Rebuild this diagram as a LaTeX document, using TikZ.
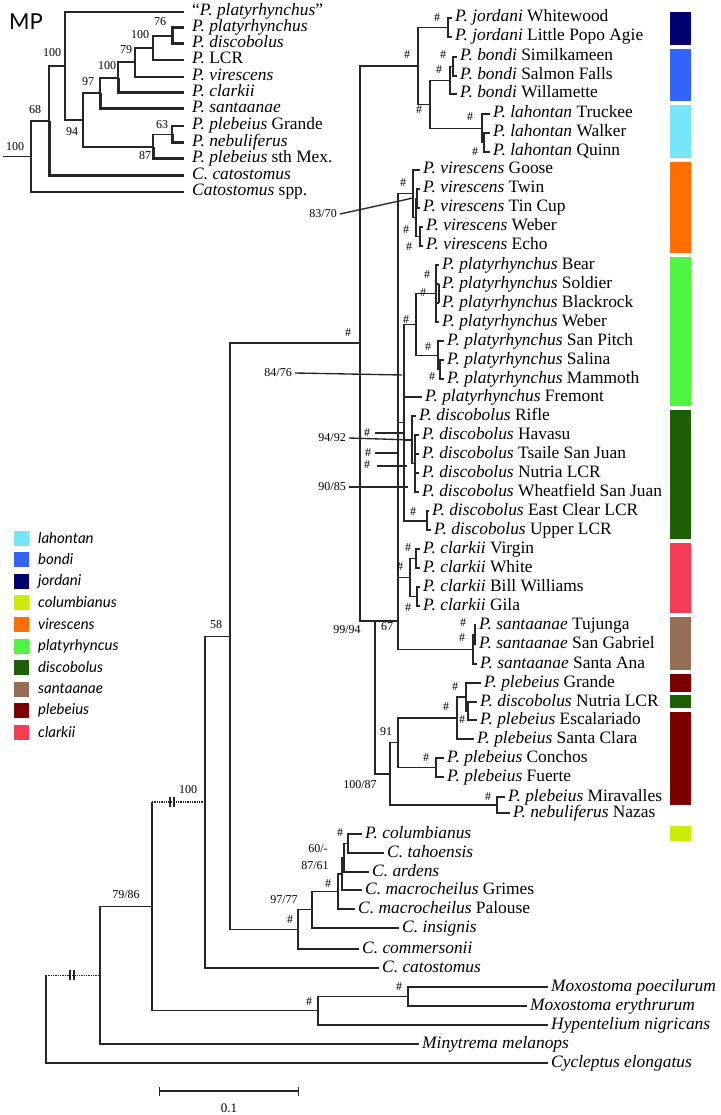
\documentclass[tikz,border=0pt]{standalone}
\usepackage{fontspec}
\setmainfont{Liberation Serif}
\newfontfamily\legfont{Lato}
\usetikzlibrary{arrows.meta}
\newcommand{\spn}[1]{\textit{#1}}
\definecolor{cjor}{RGB}{0,0,110}
\definecolor{cbon}{RGB}{50,100,250}
\definecolor{clah}{RGB}{120,228,248}
\definecolor{ccol}{RGB}{205,235,10}
\definecolor{cvir}{RGB}{255,110,0}
\definecolor{cpla}{RGB}{80,245,65}
\definecolor{cdis}{RGB}{30,95,5}
\definecolor{csan}{RGB}{150,110,85}
\definecolor{cple}{RGB}{125,0,0}
\definecolor{ccla}{RGB}{245,60,85}

\begin{document}
\begin{tikzpicture}[x=1pt,y=-1pt,
  br/.style={draw=black!85,line width=1.35pt},
  thk/.style={br,line width=3pt},
  dot/.style={br,densely dotted},
  tip/.style={anchor=west,inner xsep=3pt,inner ysep=0pt,text height=11pt,text depth=3pt,font=\fontsize{17.4}{19}\selectfont},
  mtip/.style={tip,inner xsep=8pt},
  bs/.style={font=\fontsize{12}{12}\selectfont,inner sep=0pt},
  leg/.style={anchor=west,inner sep=0pt,font=\legfont\itshape\fontsize{15}{15}\selectfont}]
  \useasboundingbox (0,0) rectangle (720,1115);

  % ---- MP inset ----
  \node[anchor=west,inner sep=0pt,font=\legfont\fontsize{22}{22}\selectfont] (mp) at (9,22) {MP};
  \coordinate (m0) at (3,156.5);   \coordinate (mR) at (31,156.5);
  \coordinate (mS) at (49,121);    \coordinate (mT) at (65,66);
  \coordinate (mU) at (83,120);    \coordinate (mX) at (100,93);
  \coordinate (mY) at (118,78);    \coordinate (mZ) at (135,62);
  \coordinate (mN) at (153,48);    \coordinate (mQ) at (172,36);
  \coordinate (mW) at (153,147);   \coordinate (mV) at (172,134.5);
  \node[mtip] (m1) at (184,12) {“\spn{P. platyrhynchus}”};
  \node[mtip] (m2) at (184,28) {\spn{P. platyrhynchus}};
  \node[mtip] (m3) at (184,44) {\spn{P. discobolus}};
  \node[mtip] (m4) at (184,60) {\spn{P.} LCR};
  \node[mtip] (m5) at (184,77) {\spn{P. virescens}};
  \node[mtip] (m6) at (184,93) {\spn{P. clarkii}};
  \node[mtip] (m7) at (184,109) {\spn{P. santaanae}};
  \node[mtip] (m8) at (184,126) {\spn{P. plebeius} Grande};
  \node[mtip] (m9) at (184,143) {\spn{P. nebuliferus}};
  \node[mtip] (m10) at (184,159) {\spn{P. plebeius} sth Mex.};
  \node[mtip] (m11) at (184,176) {\spn{C. catostomus}};
  \node[mtip] (m12) at (184,192) {\spn{Catostomus} spp.};
  \draw[br] (m0) -- (mR);
  \draw[br] (mR) |- (mS); \draw[br] (mR) |- (m12.west);
  \draw[br] (mS) |- (mT); \draw[thk] (mS) |- (m11.west);
  \draw[br] (mT) |- (m1.west); \draw[br] (mT) |- (mU);
  \draw[br] (mU) |- (mX); \draw[br] (mU) |- (mW);
  \draw[br] (mX) |- (mY); \draw[thk] (mX) |- (m7.west);
  \draw[br] (mY) |- (mZ); \draw[thk] (mY) |- (m6.west);
  \draw[br] (mZ) |- (mN); \draw[br] (mZ) |- (m5.west);
  \draw[br] (mN) |- (mQ); \draw[br] (mN) |- (m4.west);
  \draw[thk] (mQ) |- (m2.west); \draw[thk] (mQ) |- (m3.west);
  \draw[br] (mW) |- (mV); \draw[thk] (mW) |- (m10.west);
  \draw[br] (mV) |- (m8.west); \draw[thk] (mV) |- (m9.west);
  \foreach \t/\x/\y in {100/15/147,68/35/110,100/52/53,94/72/132,97/88/82,100/107/66,79/126/50,100/140/35,76/160/22,63/162/125,87/145/156}
    \node[bs] at (\x,\y) {\t};

  % ---- main tree: internal nodes ----
  \coordinate (rt) at (46,1019);   \coordinate (n100) at (100,975.2);
  \coordinate (n152) at (152,906.4); \coordinate (n205) at (205,802.1);
  \coordinate (E) at (230,636.2);  \coordinate (F) at (360,343);
  \coordinate (G) at (418,65.9);   \coordinate (J) at (448,27.5);
  \coordinate (H) at (430,104.25); \coordinate (B0) at (450,80.25);
  \coordinate (B1) at (453,66.5);  \coordinate (L0) at (482,128.25);
  \coordinate (L1) at (484,142.5);
  \coordinate (S375) at (375,621); \coordinate (N67) at (398,621);
  \coordinate (Va) at (413,193.75); \coordinate (Vb) at (416,217.5);
  \coordinate (Vb1) at (417,198.5); \coordinate (Vc) at (420,236.5);
  \coordinate (PD) at (404,422.5); \coordinate (P0) at (416,324.4);
  \coordinate (P1) at (436,293.5); \coordinate (P2) at (438,355.25);
  \coordinate (P3) at (440,369.5); \coordinate (DI) at (412,440);
  \coordinate (D2) at (415,463.5); \coordinate (EC) at (427,521);
  \coordinate (CL) at (410,577.5); \coordinate (CV) at (416,558.5);
  \coordinate (CB) at (417,596.5); \coordinate (SA) at (473,649.25);
  \coordinate (SA1) at (475,634.5);
  \coordinate (PL) at (390,773.9); \coordinate (N91) at (398,742.75);
  \coordinate (Pa) at (457,718);   \coordinate (Pb) at (466,697);
  \coordinate (Pc) at (468,711);   \coordinate (CF) at (436,767.5);
  \coordinate (MN) at (497,805);
  \coordinate (D) at (298,929.4);  \coordinate (C) at (312,909.7);
  \coordinate (B) at (338,891.4);  \coordinate (A0) at (342,873.9);
  \coordinate (A1) at (344,857.75); \coordinate (CT) at (348,843.5);
  \coordinate (Mox) at (318,1010.75); \coordinate (Mx) at (408,996.5);

  % ---- leaves ----
  \node[tip] (jw) at (452,18) {\spn{P. jordani} Whitewood};
  \node[tip] (jl) at (452,37) {\spn{P. jordani} Little Popo Agie};
  \node[tip] (bsi) at (457,57) {\spn{P. bondi} Similkameen};
  \node[tip] (bsf) at (457,76) {\spn{P. bondi} Salmon Falls};
  \node[tip] (bwi) at (457,94) {\spn{P. bondi} Willamette};
  \node[tip] (ltr) at (490,114) {\spn{P. lahontan} Truckee};
  \node[tip] (lwa) at (490,133) {\spn{P. lahontan} Walker};
  \node[tip] (lqu) at (490,152) {\spn{P. lahontan} Quinn};
  \node[tip] (vgo) at (420,170) {\spn{P. virescens} Goose};
  \node[tip] (vtw) at (420,189) {\spn{P. virescens} Twin};
  \node[tip] (vtc) at (420,208) {\spn{P. virescens} Tin Cup};
  \node[tip] (vwe) at (423,227) {\spn{P. virescens} Weber};
  \node[tip] (vec) at (423,246) {\spn{P. virescens} Echo};
  \node[tip] (pbe) at (439,265) {\spn{P. platyrhynchus} Bear};
  \node[tip] (pso) at (439,284) {\spn{P. platyrhynchus} Soldier};
  \node[tip] (pbl) at (439,303) {\spn{P. platyrhynchus} Blackrock};
  \node[tip] (pwe) at (439,322) {\spn{P. platyrhynchus} Weber};
  \node[tip] (psp) at (444,341) {\spn{P. platyrhynchus} San Pitch};
  \node[tip] (psa) at (444,360) {\spn{P. platyrhynchus} Salina};
  \node[tip] (pma) at (444,379) {\spn{P. platyrhynchus} Mammoth};
  \node[tip] (pfr) at (422,397) {\spn{P. platyrhynchus} Fremont};
  \node[tip] (dri) at (416,416) {\spn{P. discobolus} Rifle};
  \node[tip] (dha) at (419,435) {\spn{P. discobolus} Havasu};
  \node[tip] (dts) at (419,454) {\spn{P. discobolus} Tsaile San Juan};
  \node[tip] (dnu) at (419,473) {\spn{P. discobolus} Nutria LCR};
  \node[tip] (dwh) at (419,492) {\spn{P. discobolus} Wheatfield San Juan};
  \node[tip] (dec) at (429,511) {\spn{P. discobolus} East Clear LCR};
  \node[tip] (dup) at (431,530) {\spn{P. discobolus} Upper LCR};
  \node[tip] (cvi) at (420,549) {\spn{P. clarkii} Virgin};
  \node[tip] (cwh) at (420,568) {\spn{P. clarkii} White};
  \node[tip] (cbw) at (420,587) {\spn{P. clarkii} Bill Williams};
  \node[tip] (cgi) at (420,606) {\spn{P. clarkii} Gila};
  \node[tip] (stu) at (476,625) {\spn{P. santaanae} Tujunga};
  \node[tip] (ssg) at (476,644) {\spn{P. santaanae} San Gabriel};
  \node[tip] (ssa) at (477,664) {\spn{P. santaanae} Santa Ana};
  \node[tip] (lgr) at (481,683) {\spn{P. plebeius} Grande};
  \node[tip] (lnu) at (477,702) {\spn{P. discobolus} Nutria LCR};
  \node[tip] (les) at (477,720) {\spn{P. plebeius} Escalariado};
  \node[tip] (lsc) at (474,739) {\spn{P. plebeius} Santa Clara};
  \node[tip] (lco) at (444,758) {\spn{P. plebeius} Conchos};
  \node[tip] (lfu) at (444,777) {\spn{P. plebeius} Fuerte};
  \node[tip] (lmi) at (505,797) {\spn{P. plebeius} Miravalles};
  \node[tip] (lna) at (510,813) {\spn{P. nebuliferus} Nazas};
  \node[tip] (kco) at (362,834) {\spn{P. columbianus}};
  \node[tip] (kta) at (384,853) {\spn{C. tahoensis}};
  \node[tip] (kar) at (369,872) {\spn{C. ardens}};
  \node[tip] (kgr) at (362,890) {\spn{C. macrocheilus} Grimes};
  \node[tip] (kpa) at (355,909) {\spn{C. macrocheilus} Palouse};
  \node[tip] (kin) at (399,928) {\spn{C. insignis}};
  \node[tip] (kcm) at (359,949) {\spn{C. commersonii}};
  \node[tip] (kca) at (379,968) {\spn{C. catostomus}};
  \node[tip] (xpo) at (548,987) {\spn{Moxostoma poecilurum}};
  \node[tip] (xer) at (527,1006) {\spn{Moxostoma erythrurum}};
  \node[tip] (xhy) at (548,1025) {\spn{Hypentelium nigricans}};
  \node[tip] (xmi) at (419,1044) {\spn{Minytrema melanops}};
  \node[tip] (xcy) at (548,1063) {\spn{Cycleptus elongatus}};

  % ---- branches ----
  \draw[br] (rt) -- (rt |- n100); \draw[dot] (rt |- n100) -- (n100);
  \draw[br] (rt) |- (xcy.west);
  \draw[br] (n100) |- (n152); \draw[br] (n100) |- (xmi.west);
  \draw[br] (n152) -- (n152 |- n205); \draw[dot] (n152 |- n205) -- (n205);
  \draw[br] (n152) |- (Mox);
  \draw[br] (n205) |- (E); \draw[br] (n205) |- (kca.west);
  \draw[br] (E) |- (F); \draw[br] (E) |- (D);
  \draw[br] (F) |- (G); \draw[br] (F) |- (S375);
  \draw[br] (G) |- (J); \draw[br] (G) |- (H);
  \foreach \c in {jw,jl} \draw[br] (J) |- (\c.west);
  \draw[br] (H) |- (B0); \draw[br] (H) |- (L0);
  \draw[br] (B0) |- (B1); \draw[br] (B0) |- (bwi.west);
  \foreach \c in {bsi,bsf} \draw[br] (B1) |- (\c.west);
  \draw[br] (L0) |- (ltr.west); \draw[br] (L0) |- (L1);
  \foreach \c in {lwa,lqu} \draw[br] (L1) |- (\c.west);
  \draw[br] (S375) -- (N67); \draw[br] (S375) |- (PL);
  \foreach \c in {Va,PD,CL,SA} \draw[br] (N67) |- (\c);
  \draw[br] (Va) |- (vgo.west); \draw[br] (Va) |- (Vb);
  \draw[br] (Vb) |- (Vb1); \draw[br] (Vb) |- (Vc);
  \foreach \c in {vtw,vtc} \draw[br] (Vb1) |- (\c.west);
  \foreach \c in {vwe,vec} \draw[br] (Vc) |- (\c.west);
  \foreach \c in {P0,DI,EC} \draw[br] (PD) |- (\c);
  \draw[br] (PD) |- (pfr.west);
  \draw[br] (P0) |- (P1); \draw[br] (P0) |- (P2);
  \foreach \c in {pbe,pso,pbl,pwe} \draw[br] (P1) |- (\c.west);
  \draw[thk,line width=2.2pt] (pso.west) -- (pbl.west);
  \draw[br] (P2) |- (psp.west); \draw[br] (P2) |- (P3);
  \foreach \c in {psa,pma} \draw[br] (P3) |- (\c.west);
  \draw[br] (DI) |- (dri.west); \draw[br] (DI) |- (D2);
  \foreach \c in {dha,dts,dnu,dwh} \draw[br] (D2) |- (\c.west);
  \foreach \c in {dec,dup} \draw[br] (EC) |- (\c.west);
  \draw[br] (CL) |- (CV); \draw[br] (CL) |- (CB);
  \foreach \c in {cvi,cwh} \draw[br] (CV) |- (\c.west);
  \foreach \c in {cbw,cgi} \draw[br] (CB) |- (\c.west);
  \draw[br] (SA) |- (SA1); \draw[br] (SA) |- (ssa.west);
  \foreach \c in {stu,ssg} \draw[br] (SA1) |- (\c.west);
  \draw[br] (PL) |- (N91); \draw[br] (PL) |- (MN);
  \draw[br] (N91) |- (Pa); \draw[br] (N91) |- (CF);
  \draw[br] (Pa) |- (Pb); \draw[br] (Pa) |- (lsc.west);
  \draw[br] (Pb) |- (lgr.west); \draw[br] (Pb) |- (Pc);
  \foreach \c in {lnu,les} \draw[br] (Pc) |- (\c.west);
  \foreach \c in {lco,lfu} \draw[br] (CF) |- (\c.west);
  \foreach \c in {lmi,lna} \draw[br] (MN) |- (\c.west);
  \draw[br] (D) |- (C); \draw[br] (D) |- (kcm.west);
  \draw[br] (C) |- (B); \draw[br] (C) |- (kin.west);
  \draw[br] (B) |- (A0); \draw[br] (B) |- (kpa.west);
  \draw[br] (A0) |- (A1); \draw[br] (A0) |- (kgr.west);
  \draw[br] (A1) |- (CT); \draw[br] (A1) |- (kar.west);
  \foreach \c in {kco,kta} \draw[br] (CT) |- (\c.west);
  \draw[br] (Mox) |- (Mx); \draw[br] (Mox) |- (xhy.west);
  \foreach \c in {xpo,xer} \draw[br] (Mx) |- (\c.west);

  % break marks on the shortened branches
  \foreach \x/\y in {70/975.2,74/975.2,170/802.1,174/802.1}
    \draw[br,line width=1.1pt] (\x,\y-5) -- (\x,\y+5);

  % ---- support values ----
  \foreach \x/\y in {437/18,443/55,439/70,407/55,419/110,470/117,475/152,348/333,
      403/183,406/230,409/247,427/275,423/293,406/320,428/347,432/377,413/512,
      367/433,368/453,367/465,
      408/548,400/567,408/608,463/623,462/638,455/687,446/707,462/720,426/758,488/797,
      340/833,328/884,290/920,309/1002,399/987}
    \node[bs] at (\x,\y) {\#};
  \foreach \t/\x/\y in {58/216/625,99\slash94/347/630,67/387/627,91/386/732,
      100\slash87/360/785,100/188/790,79\slash86/126/895,60\slash-/318/849,
      87\slash61/315/866,97\slash77/284/900}
    \node[bs] at (\x,\y) {\t};

  % pointers into the short internal branches
  \node[bs,anchor=east] (s8370) at (337,214) {83/70};
  \node[bs,anchor=east] (s8476) at (292,373) {84/76};
  \node[bs,anchor=east] (s9492) at (346,438) {94/92};
  \node[bs,anchor=east] (s9085) at (346,487) {90/85};
  \coordinate (q1) at (413,198); \coordinate (q2) at (402,375);
  \coordinate (q3) at (412,440); \coordinate (q4) at (408,487);
  \draw[br] (s8370.east) ++(3,0) -- (q1);
  \draw[br] (s8476.east) ++(3,0) -- (q2);
  \draw[br] (s9492.east) ++(3,0) -- (q3);
  \draw[br] (s9085.east) ++(3,0) -- (q4);
  \foreach \y/\a/\b in {433/375/403,453/375/397,466/377/407}
    \draw[br] (\a,\y) -- (\b,\y);

  % ---- colour bars ----
  \foreach \c/\a/\b in {cjor/12/45,cbon/49/101,clah/105/158,cvir/162/253,cpla/257/406,
      cdis/410/539,ccla/543/613,csan/617/670,cple/674/692,cdis/695/708,cple/712/805,ccol/826/841}
    \fill[\c] (670,\a) rectangle (691,\b);

  % ---- legend ----
  \foreach \n/\c/\y in {lahontan/clah/538,bondi/cbon/559,jordani/cjor/581,columbianus/ccol/602,
      virescens/cvir/624,platyrhyncus/cpla/646,discobolus/cdis/667,santaanae/csan/689,
      plebeius/cple/710,clarkii/ccla/732} {
    \fill[\c] (14,\y-7.5) rectangle (29,\y+7.5);
    \node[leg] (lg-\n) at (38,\y) {\n};
  }

  % ---- scale bar ----
  \coordinate (sbl) at (159,1091); \coordinate (sbr) at (299,1091);
  \draw[br,{Bar[width=9pt]}-{Bar[width=9pt]}] (sbl) -- (sbr);
  \node[bs,font=\fontsize{13}{13}\selectfont] (sbt) at (229,1108) {0.1};
\end{tikzpicture}
\end{document}
